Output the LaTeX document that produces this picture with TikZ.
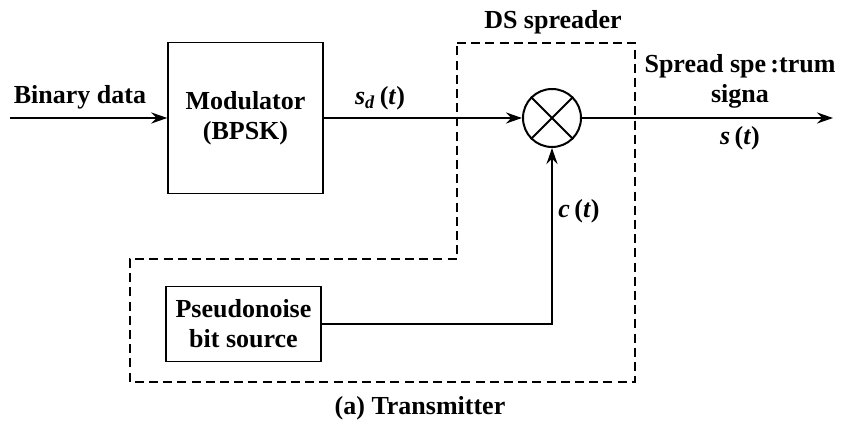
\documentclass[tikz,border=0pt]{standalone}
\usepackage{fontspec}
\setmainfont{Liberation Serif}
\usetikzlibrary{arrows.meta,positioning,calc}

\tikzset{
  blockbox/.style={draw,line width=0.7pt,align=center,
                   font=\fontsize{13}{15}\selectfont\bfseries},
  sigline/.style={line width=1pt},
  sigarrow/.style={line width=1.1pt,-{Stealth[length=8pt,width=5.5pt]}},
  lbl/.style={font=\fontsize{13}{15}\selectfont\bfseries,align=center},
  spreadzone/.style={dashed,line width=0.7pt,dash pattern=on 4.5pt off 2.6pt}
}

\begin{document}
\begin{tikzpicture}[x=0.5pt,y=-0.5pt]
  \useasboundingbox (0,0) rectangle (841,426);
  %% DS spreader region (dashed outline)
  \draw[spreadzone](457,43)--(635,43)--(635,382)--(130,382)
       --(130,259)--(457,259)--cycle;
  \node[lbl] (dslbl) at (553,22){DS spreader};
  %% Blocks
  \node[blockbox,minimum width=77.5pt,minimum height=75.5pt]
       (modulator) at (245.5,118){Modulator\\(BPSK)};
  \node[blockbox,minimum width=77.5pt,minimum height=37.5pt]
       (pnsource) at (243.5,324){Pseudonoise\\bit source};
  \node[draw,circle,line width=1pt,minimum size=29pt,inner sep=0pt]
       (mixer) at (552,118){};
  \draw[line width=0.9pt](mixer.north west)--(mixer.south east)
       (mixer.north east)--(mixer.south west);
  %% Free ends
  \coordinate (datain) at (10,118);
  \coordinate (sigout) at (833,118);
  %% Connectors
  \draw[sigarrow](datain)--(modulator.west);
  \draw[sigarrow](modulator.east)--(mixer.west);
  \draw[sigarrow](pnsource.east)-|(mixer.south);
  \draw[sigarrow](mixer.east)--(sigout);
  %% Signal labels
  \node[lbl] (binlbl) at (80,97){Binary data};
  \node[lbl] (sdlbl) at (380,98){\textit{s}\textsubscript{\textit{d}}\,(\textit{t})};
  \node[lbl] (spreadlbl) at (740,81){Spread spe\,:trum\\signa};
  \node[lbl] (stlbl) at (740,138){\textit{s}\,(\textit{t})};
  \node[lbl] (ctlbl) at (579,211){\textit{c}\,(\textit{t})};
  \node[lbl] (caption) at (420,408){(a) Transmitter};
\end{tikzpicture}
\end{document}
